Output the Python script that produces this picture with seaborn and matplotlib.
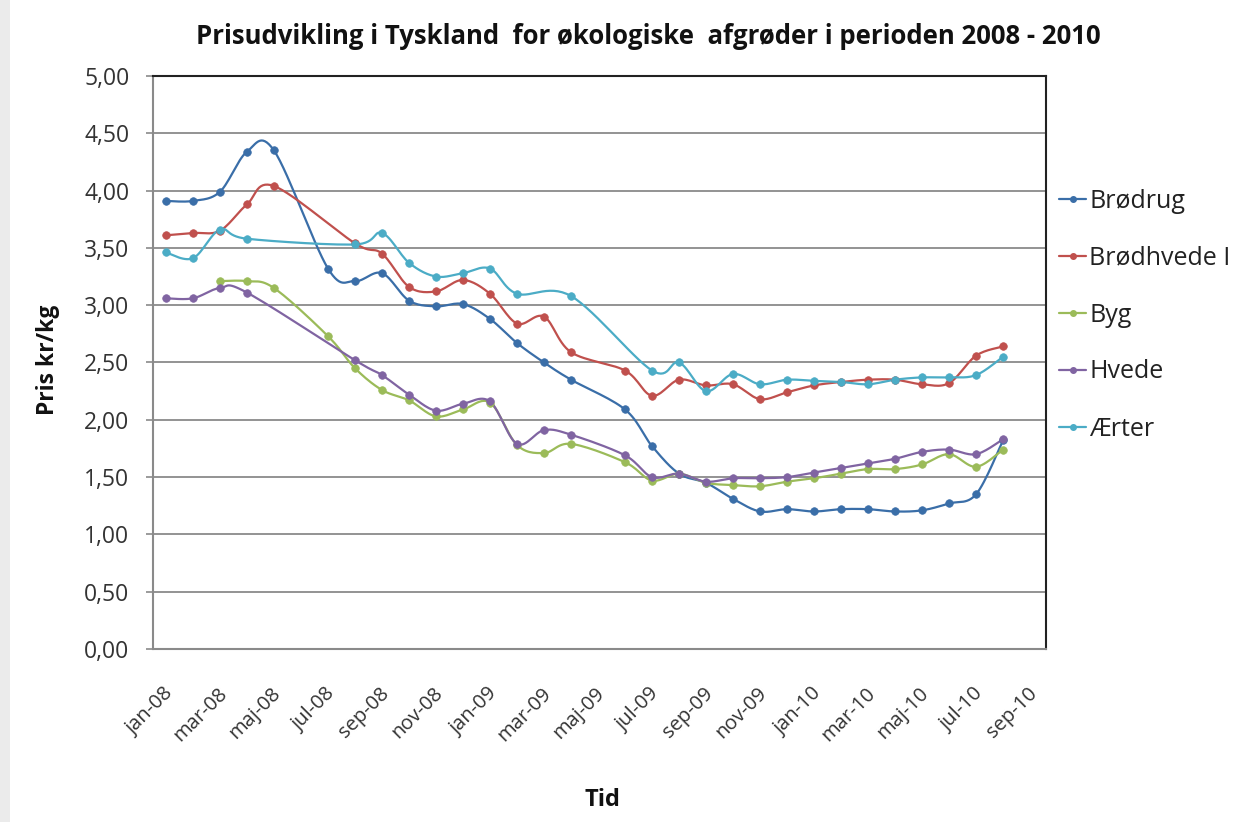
import numpy as np
import pandas as pd
import matplotlib
matplotlib.use("Agg")
import matplotlib.pyplot as plt
import seaborn as sns
from matplotlib.lines import Line2D
from matplotlib.patches import Rectangle
from matplotlib.transforms import ScaledTranslation

# ---------------- data ----------------
months = list(range(32))  # 0 = jan-08 ... 31 = aug-10
tick_pos = list(range(0, 33, 2))
tick_labels = ["jan-08", "mar-08", "maj-08", "jul-08", "sep-08", "nov-08",
               "jan-09", "mar-09", "maj-09", "jul-09", "sep-09", "nov-09",
               "jan-10", "mar-10", "maj-10", "jul-10", "sep-10"]
N = None
brodrug = [3.91, 3.91, 3.99, 4.34, 4.35, N, 3.32, 3.21, 3.28, 3.04, 2.99, 3.01,
           2.88, 2.67, 2.50, 2.35, N, 2.09, 1.77, 1.53, 1.45, 1.31, 1.20, 1.22,
           1.20, 1.22, 1.22, 1.20, 1.21, 1.27, 1.35, 1.82]
brodhvede = [3.61, 3.63, 3.65, 3.88, 4.04, N, N, 3.54, 3.45, 3.16, 3.12, 3.22,
             3.10, 2.84, 2.90, 2.59, N, 2.43, 2.21, 2.35, 2.30, 2.31, 2.18, 2.24,
             2.30, 2.33, 2.35, 2.35, 2.31, 2.32, 2.56, 2.64]
byg = [N, N, 3.21, 3.21, 3.15, N, 2.73, 2.45, 2.26, 2.17, 2.03, 2.09,
       2.15, 1.78, 1.71, 1.79, N, 1.63, 1.47, 1.53, 1.45, 1.43, 1.42, 1.46,
       1.49, 1.53, 1.57, 1.57, 1.61, 1.70, 1.59, 1.74]
hvede = [3.06, 3.06, 3.15, 3.11, N, N, N, 2.52, 2.39, 2.22, 2.08, 2.14,
         2.16, 1.79, 1.91, 1.87, N, 1.69, 1.50, 1.53, 1.46, 1.49, 1.49, 1.50,
         1.54, 1.58, 1.62, 1.66, 1.72, 1.74, 1.70, 1.83]
aerter = [3.46, 3.41, 3.66, 3.58, N, N, N, 3.53, 3.63, 3.37, 3.25, 3.28,
          3.32, 3.10, N, 3.08, N, N, 2.43, 2.50, 2.25, 2.40, 2.31, 2.35,
          2.34, 2.33, 2.31, 2.35, 2.37, 2.37, 2.39, 2.55]

series_names = ["Brødrug", "Brødhvede I", "Byg", "Hvede", "Ærter"]
series_values = [brodrug, brodhvede, byg, hvede, aerter]
colors = ["#3A6EA8", "#C0504D", "#9BBB59", "#8064A2", "#4BACC6"]

title = "Prisudvikling i Tyskland  for økologiske  afgrøder i perioden 2008 - 2010"
ylabel = "Pris kr/kg"
xlabel = "Tid"


def smooth(x, y, n=16):
    pts = np.column_stack([x, y]).astype(float)
    if len(pts) < 2:
        return pts
    out = []
    for i in range(len(pts) - 1):
        p0 = pts[i - 1] if i > 0 else pts[i]
        p1, p2 = pts[i], pts[i + 1]
        p3 = pts[i + 2] if i + 2 < len(pts) else pts[i + 1]
        c1 = p1 + (p2 - p0) / 6.0
        c2 = p2 - (p3 - p1) / 6.0
        t = np.linspace(0, 1, n)[:, None]
        seg = ((1 - t) ** 3) * p1 + 3 * ((1 - t) ** 2) * t * c1 + 3 * (1 - t) * t ** 2 * c2 + t ** 3 * p2
        out.append(seg if i == 0 else seg[1:])
    return np.vstack(out)


# ---------------- figure ----------------
sns.set_theme(style="white")
plt.rcParams["font.family"] = ["Open Sans", "DejaVu Sans"]

fig = plt.figure(figsize=(12.6, 8.22), dpi=100)
fig.patch.set_facecolor("#ebebeb")
fig.patches.append(Rectangle((10 / 1260, 0), 1, 1, transform=fig.transFigure,
                             facecolor="white", edgecolor="none", zorder=-10))

ax = fig.add_axes([153 / 1260, 1 - 649 / 822, 893 / 1260, 573 / 822])
ax.set_facecolor("white")

for name, vals, col in zip(series_names, series_values, colors):
    df = pd.DataFrame({"m": months, "v": vals}).dropna()
    curve = smooth(df["m"].values, df["v"].values)
    sns.lineplot(x=curve[:, 0], y=curve[:, 1], sort=False, estimator=None,
                 color=col, lw=1.6, ax=ax, zorder=3)
    sns.scatterplot(x=df["m"], y=df["v"], color=col, s=30, edgecolor=col,
                    linewidth=0.5, ax=ax, zorder=4, legend=False)

ax.set_xlim(-0.48, 32.59)
ax.set_ylim(0, 5)
ax.set_yticks(np.arange(0, 5.01, 0.5))
ax.set_yticklabels([f"{v:.2f}".replace(".", ",") for v in np.arange(0, 5.01, 0.5)])
ax.set_xticks(tick_pos)
ax.set_xticklabels(tick_labels, rotation=45, ha="right", va="center",
                   rotation_mode="anchor")
ax.grid(axis="y", color="#8a8a8a", lw=1.3)
ax.grid(axis="x", visible=False)
ax.set_axisbelow(True)

ax.tick_params(axis="y", which="both", left=True, length=5, width=1.2,
               color="#8a8a8a", labelsize=16.5, labelcolor="#333333", pad=12)
ax.tick_params(axis="x", length=0, labelsize=14.5, labelcolor="#333333", pad=30)
for lab in ax.get_xticklabels():
    lab.set_transform(lab.get_transform() + ScaledTranslation(0.04, 0, fig.dpi_scale_trans))

for side in ["left", "bottom"]:
    ax.spines[side].set_color("#8a8a8a")
    ax.spines[side].set_linewidth(1.5)
for side in ["top", "right"]:
    ax.spines[side].set_color("#222222")
    ax.spines[side].set_linewidth(1.5)

ax.set_xlabel("")
ax.set_ylabel("")
fig.text(648 / 1260, 1 - 36 / 822, title, ha="center", va="center",
         fontsize=18.5, fontweight="bold", color="#111111")
fig.text(48 / 1260, 1 - 360 / 822, ylabel, ha="center", va="center", rotation=90,
         fontsize=16.5, fontweight="bold", color="#111111")
fig.text(602 / 1260, 1 - 800 / 822, xlabel, ha="center", va="center",
         fontsize=17, fontweight="bold", color="#111111")

handles = [Line2D([], [], color=c, lw=1.6, marker="o", markersize=4) for c in colors]
fig.legend(handles, series_names, loc="center left",
           bbox_to_anchor=(1059 / 1260, 1 - 315 / 822), frameon=False,
           fontsize=18, handlelength=1.08, handletextpad=0.12, labelspacing=1.28,
           borderpad=0, borderaxespad=0, labelcolor="#222222")

fig.savefig("out.png", dpi=100)
